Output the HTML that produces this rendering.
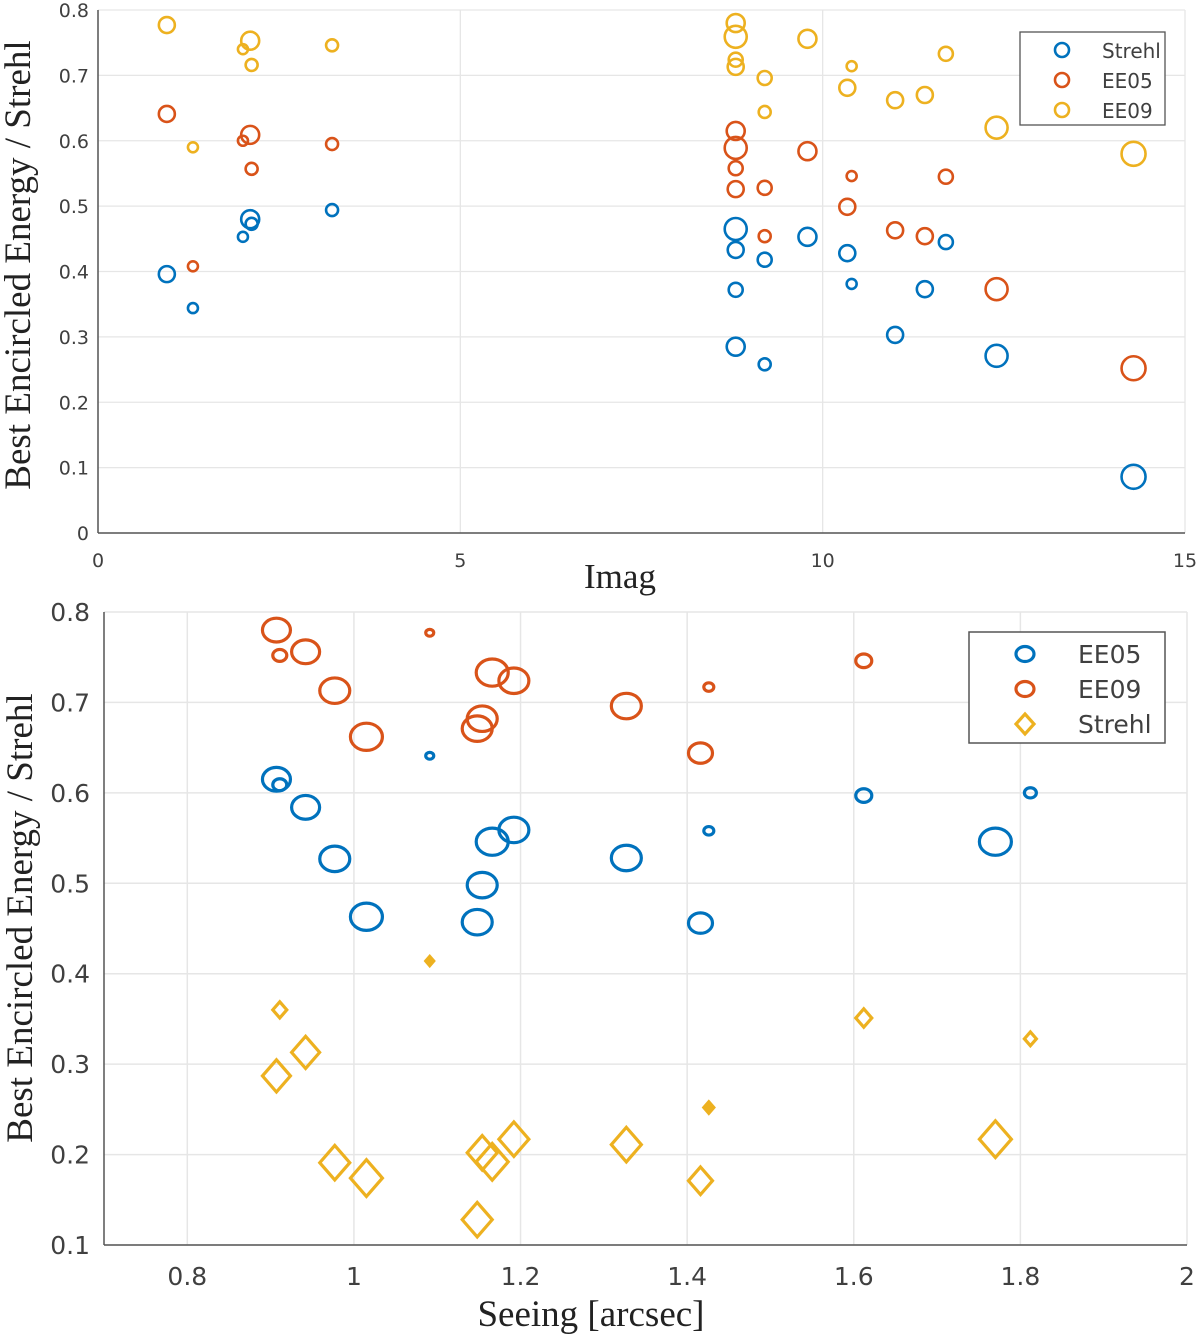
<!DOCTYPE html>
<html><head><meta charset="utf-8"><style>
html,body{margin:0;padding:0;background:#fff;}
svg{display:block;}
text{font-family:"DejaVu Sans","Liberation Sans",sans-serif;fill:#404040;}
.ser{font-family:"Liberation Serif",serif;fill:#222;}
</style></head><body>
<svg id="svg" width="1200" height="1337" viewBox="0 0 1200 1337" xmlns="http://www.w3.org/2000/svg">
<g id="top"></g>
<g id="bot"></g>
</svg>
<script>
// ---- Top chart data (Imag) ----
const imag = [0.95,1.31,2.0,2.1,2.12,3.23,8.8,8.8,8.8,8.8,9.2,9.2,9.79,10.34,10.4,11.0,11.41,11.7,12.4,14.29];
const topSize = [8,5,5,9,6,6,11,9,8,7,7,6,9,8,5,8,8,7,11,12];
const topStrehl = [.396,.344,.453,.480,.473,.494,.465,.285,.433,.372,.418,.258,.453,.428,.381,.303,.373,.445,.271,.086];
const topEE05 = [.641,.408,.600,.609,.557,.595,.589,.615,.526,.558,.528,.454,.584,.499,.546,.463,.454,.545,.373,.252];
const topEE09 = [.777,.590,.740,.753,.716,.746,.759,.780,.713,.724,.696,.644,.756,.681,.714,.662,.670,.733,.620,.580];
const topXTicks = [0,5,10,15];
const topYTicks = [0,0.1,0.2,0.3,0.4,0.5,0.6,0.7,0.8];
// ---- Bottom chart data (Seeing) ----
const seeing = [0.907,0.911,0.942,0.977,1.015,1.091,1.148,1.154,1.166,1.192,1.327,1.416,1.426,1.612,1.770,1.812];
const botSize = [14,7,14,15,16,4,15,15,16,15,15,12,5,8,16,6];
const botEE09 = [.780,.752,.756,.713,.662,.777,.671,.682,.733,.724,.696,.644,.717,.746,null,null];
const botEE05 = [.615,.609,.584,.527,.463,.641,.457,.498,.546,.559,.528,.456,.558,.597,.546,.600];
const botStrehl = [.287,.360,.313,.191,.174,.414,.128,.202,.192,.217,.211,.171,.252,.351,.217,.328];
const botXTicks = [0.8,1,1.2,1.4,1.6,1.8,2];
const botYTicks = [0.1,0.2,0.3,0.4,0.5,0.6,0.7,0.8];

const NS='http://www.w3.org/2000/svg';
const BLUE='#0072BD',ORANGE='#D95319',YELLOW='#EDB120';
function mk(p,tag,at,txt){const e=document.createElementNS(NS,tag);for(const k in at)e.setAttribute(k,at[k]);if(txt!==undefined)e.textContent=txt;p.appendChild(e);return e;}

// Top axes
const T=document.getElementById('top');
const tx=v=>98+v*(1185-98)/15, ty=v=>533-v*(533-10)/0.8;
topXTicks.forEach(v=>{const l=mk(T,'line',{x1:tx(v),x2:tx(v),y1:10,y2:533,stroke:'#e6e6e6','stroke-width':1.3});


const t=mk(T,'text',{x:tx(v),y:567,'text-anchor':'middle','font-size':19},String(v));

});
topYTicks.forEach(v=>{const l=mk(T,'line',{x1:98,x2:1185,y1:ty(v),y2:ty(v),stroke:'#e6e6e6','stroke-width':1.3});


const t=mk(T,'text',{x:89,y:ty(v)+7,'text-anchor':'end','font-size':19},String(v));

});
mk(T,'line',{x1:98,x2:98,y1:10,y2:533,stroke:'#555','stroke-width':1.5});
mk(T,'line',{x1:98,x2:1185,y1:533,y2:533,stroke:'#555','stroke-width':1.5});
[[topStrehl,BLUE,'strehl'],[topEE05,ORANGE,'ee05'],[topEE09,YELLOW,'ee09']].forEach(([arr,c,n])=>{
 arr.forEach((v,i)=>{const e=mk(T,'circle',{cx:tx(imag[i]),cy:ty(v),r:topSize[i],fill:'none',stroke:c,'stroke-width':2.6});
 
 });
});
let t1=mk(T,'text',{x:620,y:588,'text-anchor':'middle','font-size':35,class:'ser'},'Imag');


let t2=mk(T,'text',{x:0,y:0,'text-anchor':'middle','font-size':37,class:'ser',transform:'translate(30,265) rotate(-90)'},'Best Encircled Energy / Strehl');


const TL=mk(T,'g',{});


mk(TL,'rect',{x:1020,y:32,width:145,height:93,fill:'#fff',stroke:'#555','stroke-width':1.3});
[['Strehl',BLUE],['EE05',ORANGE],['EE09',YELLOW]].forEach(([n,c],i)=>{
 mk(TL,'circle',{cx:1062,cy:50+i*30,r:7,fill:'none',stroke:c,'stroke-width':2.6});
 const t=mk(TL,'text',{x:1102,y:58+i*30,'font-size':20,fill:'#333'},n);
 
 
});

// Bottom axes
const B=document.getElementById('bot');
const bx=v=>104+(v-0.7)*(1187-104)/1.3, by=v=>1245-(v-0.1)*(1245-612)/0.7;
botXTicks.forEach(v=>{const l=mk(B,'line',{x1:bx(v),x2:bx(v),y1:612,y2:1245,stroke:'#e6e6e6','stroke-width':1.5});


const t=mk(B,'text',{x:bx(v),y:1285,'text-anchor':'middle','font-size':25},String(v));

});
botYTicks.forEach(v=>{const l=mk(B,'line',{x1:104,x2:1187,y1:by(v),y2:by(v),stroke:'#e6e6e6','stroke-width':1.5});


const t=mk(B,'text',{x:90,y:by(v)+9,'text-anchor':'end','font-size':25},String(v));

});
mk(B,'line',{x1:104,x2:104,y1:612,y2:1245,stroke:'#555','stroke-width':1.5});
mk(B,'line',{x1:104,x2:1187,y1:1245,y2:1245,stroke:'#555','stroke-width':1.5});
[[botEE05,BLUE,'ee05'],[botEE09,ORANGE,'ee09']].forEach(([arr,c,n])=>{
 arr.forEach((v,i)=>{if(v===null)return;const s=botSize[i];
 const e=mk(B,'ellipse',{cx:bx(seeing[i]),cy:by(v),rx:s,ry:s*0.85,fill:'none',stroke:c,'stroke-width':3.2});
 
 });
});
botStrehl.forEach((v,i)=>{const s=botSize[i],x=bx(seeing[i]),y=by(v),w=s,h=s*1.15;
 const e=mk(B,'polygon',{points:`${x},${y-h} ${x+w},${y} ${x},${y+h} ${x-w},${y}`,fill:s<=5?YELLOW:'none',stroke:YELLOW,'stroke-width':3.2});
 
 });
let b1=mk(B,'text',{x:591,y:1326,'text-anchor':'middle','font-size':37,class:'ser'},'Seeing [arcsec]');


let b2=mk(B,'text',{x:0,y:0,'text-anchor':'middle','font-size':37,class:'ser',transform:'translate(32,918) rotate(-90)'},'Best Encircled Energy / Strehl');


const BL=mk(B,'g',{});


mk(BL,'rect',{x:969,y:632,width:196,height:111,fill:'#fff',stroke:'#555','stroke-width':1.5});
[['EE05',BLUE,'c'],['EE09',ORANGE,'c'],['Strehl',YELLOW,'d']].forEach(([n,c,k],i)=>{
 const y=654+i*35;
 if(k==='c')mk(BL,'ellipse',{cx:1025,cy:y,rx:9,ry:7.5,fill:'none',stroke:c,'stroke-width':3.2});
 else mk(BL,'polygon',{points:`1025,${y-10} 1034,${y} 1025,${y+10} 1016,${y}`,fill:'none',stroke:c,'stroke-width':3.2});
 const t=mk(BL,'text',{x:1078,y:y+9,'font-size':25,fill:'#222'},n);
 
 
});
</script>
</body></html>
